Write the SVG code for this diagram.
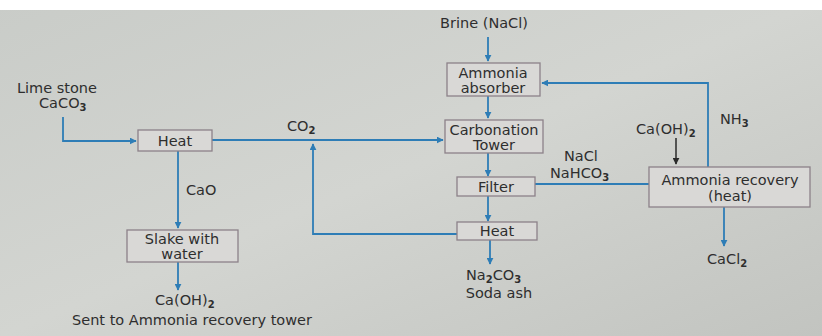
<svg xmlns="http://www.w3.org/2000/svg" width="822" height="336" viewBox="0 0 822 336">
<defs>
<linearGradient id="bg" x1="0" y1="0" x2="1" y2="1">
<stop offset="0" stop-color="#c9ccc8"/>
<stop offset="0.5" stop-color="#d3d5d1"/>
<stop offset="1" stop-color="#c2c4c0"/>
</linearGradient>
<marker id="ab" viewBox="0 0 10 10" refX="9" refY="5" markerWidth="7" markerHeight="7" markerUnits="userSpaceOnUse" orient="auto">
<path d="M0,0 L10,5 L0,10 z" fill="#2e7db6"/>
</marker>
<marker id="ak" viewBox="0 0 10 10" refX="9" refY="5" markerWidth="7" markerHeight="7" markerUnits="userSpaceOnUse" orient="auto">
<path d="M0,0 L10,5 L0,10 z" fill="#2a2a2a"/>
</marker>
</defs>
<style>
.box{fill:#d9d8d6;stroke:#8c8189;stroke-width:1.3}
.t{font-family:"DejaVu Sans","Liberation Sans",sans-serif;font-size:14.5px;fill:#2e2e2e}
.c{stroke:#2e7db6;stroke-width:1.8;fill:none}
.s{font-size:10px;font-weight:bold}
</style>
<rect width="822" height="336" fill="url(#bg)"/>
<rect width="822" height="10" fill="#ffffff"/>

<g id="connectors">
<path class="c" d="M63,117 V141 H136" marker-end="url(#ab)"/>
<path class="c" d="M212,140 H443" marker-end="url(#ab)"/>
<path class="c" d="M178,151 V228" marker-end="url(#ab)"/>
<path class="c" d="M178,262 V290" marker-end="url(#ab)"/>
<path class="c" d="M488,37 V61" marker-end="url(#ab)"/>
<path class="c" d="M488,96 V118" marker-end="url(#ab)"/>
<path class="c" d="M488,153 V176" marker-end="url(#ab)"/>
<path class="c" d="M488,196 V221" marker-end="url(#ab)"/>
<path class="c" d="M490,240 V264" marker-end="url(#ab)"/>
<path class="c" d="M457,234 H313 V144" marker-end="url(#ab)"/>
<path class="c" d="M535,184 H649"/>
<path class="c" d="M708,167 V83 H542" marker-end="url(#ab)"/>
<path class="c" d="M724,207 V246" marker-end="url(#ab)"/>
<path d="M676,138 V164" stroke="#2a2a2a" stroke-width="1.5" fill="none" marker-end="url(#ak)"/>
</g>

<g id="limestone">
<text class="t" x="57" y="93" text-anchor="middle">Lime stone</text>
<text class="t" x="39" y="108">CaCO<tspan class="s" dy="3">3</tspan></text>
</g>

<g id="heat1">
<rect class="box" x="138" y="130" width="74" height="21"/>
<text class="t" x="175" y="145.5" text-anchor="middle">Heat</text>
</g>

<g id="co2"><text class="t" x="287" y="131">CO<tspan class="s" dy="3">2</tspan></text></g>
<g id="cao"><text class="t" x="186" y="195">CaO</text></g>

<g id="slake">
<rect class="box" x="127" y="230" width="111" height="32"/>
<text class="t" x="182" y="244" text-anchor="middle">Slake with</text>
<text class="t" x="182" y="258.5" text-anchor="middle">water</text>
</g>

<g id="caoh2-out">
<text class="t" x="155" y="305">Ca(OH)<tspan class="s" dy="3">2</tspan></text>
<text class="t" x="192" y="325" text-anchor="middle">Sent to Ammonia recovery tower</text>
</g>

<g id="brine"><text class="t" x="484" y="28" text-anchor="middle">Brine (NaCl)</text></g>

<g id="absorber">
<rect class="box" x="447" y="63" width="93" height="33"/>
<text class="t" x="493" y="78" text-anchor="middle">Ammonia</text>
<text class="t" x="493" y="92.5" text-anchor="middle">absorber</text>
</g>

<g id="carbonation">
<rect class="box" x="445" y="120" width="98" height="33"/>
<text class="t" x="494" y="134.5" text-anchor="middle">Carbonation</text>
<text class="t" x="494" y="149.5" text-anchor="middle">Tower</text>
</g>

<g id="filter">
<rect class="box" x="457" y="177" width="78" height="19"/>
<text class="t" x="496" y="191.5" text-anchor="middle">Filter</text>
</g>

<g id="nacl-label">
<text class="t" x="564" y="161">NaCl</text>
<text class="t" x="550" y="178">NaHCO<tspan class="s" dy="3">3</tspan></text>
</g>

<g id="heat2">
<rect class="box" x="457" y="222" width="80" height="18"/>
<text class="t" x="497" y="236" text-anchor="middle">Heat</text>
</g>

<g id="sodaash">
<text class="t" x="466" y="280">Na<tspan class="s" dy="3">2</tspan><tspan dy="-3">CO</tspan><tspan class="s" dy="3">3</tspan></text>
<text class="t" x="499" y="298" text-anchor="middle">Soda ash</text>
</g>

<g id="nh3"><text class="t" x="720" y="124">NH<tspan class="s" dy="3">3</tspan></text></g>
<g id="caoh2-in"><text class="t" x="636" y="134">Ca(OH)<tspan class="s" dy="3">2</tspan></text></g>

<g id="recovery">
<rect class="box" x="649" y="167" width="161" height="40"/>
<text class="t" x="730" y="184.5" text-anchor="middle">Ammonia recovery</text>
<text class="t" x="730" y="200.5" text-anchor="middle">(heat)</text>
</g>

<g id="cacl2"><text class="t" x="707" y="264">CaCl<tspan class="s" dy="3">2</tspan></text></g>
</svg>
